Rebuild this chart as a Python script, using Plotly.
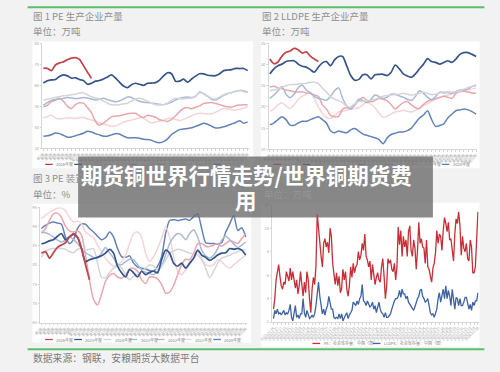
import pandas as pd
import plotly.graph_objects as go

W, H = 500, 372
FONT = "Noto Sans CJK SC"

# ---------------- categories ----------------
week_nums = list(range(1, 53))
week_labels = [f"第{i}周" for i in week_nums]
year_names = ["2026年度", "2025年度", "2024年度", "2023年度", "2022年度", "2021年度", "2020年度"]

# ---------------- 图1 PE 生产企业产量 (万吨) ----------------
pe_out_2026 = [68.1, 68.1, 67.0, 69.7, 70.6, 71.2, 72.2, 73.0, 73.2, 72.4, 69.4, 66.3, 63.4]
pe_out_2025 = [61.1, 62.2, 62.6, 62.8, 64.2, 65.0, 64.5, 63.4, 63.6, 62.8, 62.3, 60.5, 61.0, 62.0, 62.3, 63.0,
               64.0, 65.0, 63.5, 61.5, 59.7, 58.9, 60.3, 61.0, 60.5, 60.0, 61.0, 61.1, 61.3, 62.5, 64.5, 66.0,
               65.5, 62.0, 62.0, 63.0, 61.5, 63.0, 64.4, 65.5, 65.5, 64.8, 64.6, 64.6, 65.5, 67.0, 67.3, 67.5,
               68.1, 68.0, 68.0, 67.0]
pe_out_2024 = [53.0, 53.4, 53.8, 54.2, 54.6, 55.0, 55.2, 55.5, 55.8, 56.3, 56.4, 55.5, 54.6, 54.0, 53.5, 52.5,
               51.5, 50.8, 50.6, 50.8, 51.2, 51.5, 52.5, 53.5, 53.8, 53.3, 52.5, 51.5, 50.8, 50.6, 50.8, 51.5,
               53.0, 53.8, 53.6, 53.5, 53.8, 54.0, 55.0, 56.5, 56.0, 55.0, 53.8, 53.5, 54.5, 55.5, 56.2, 56.5,
               57.2, 57.6, 57.0, 56.4]
pe_out_2023 = [50.6, 51.8, 52.8, 53.3, 53.5, 53.8, 54.2, 54.0, 53.6, 53.8, 54.2, 54.0, 53.5, 53.0, 53.4, 53.8,
               53.2, 52.6, 52.2, 52.6, 53.5, 54.5, 54.2, 53.2, 52.4, 52.0, 51.8, 51.5, 51.2, 51.0, 50.8, 51.2,
               52.0, 53.0, 53.8, 54.2, 54.4, 54.2, 54.8, 56.8, 56.0, 54.8, 53.4, 53.0, 54.0, 55.2, 56.0, 56.6,
               57.2, 57.6, 57.4, 56.6]
pe_out_2022 = [49.8, 50.5, 52.2, 53.0, 53.8, 52.5, 50.0, 49.0, 50.8, 51.7, 51.5, 49.5, 47.0, 42.8, 41.0, 42.0,
               43.5, 45.0, 45.3, 45.5, 46.0, 46.5, 46.7, 46.7, 45.5, 44.7, 45.8, 45.4, 44.8, 43.6, 43.2, 42.8,
               43.8, 45.5, 47.5, 49.0, 49.4, 48.8, 49.6, 50.2, 51.4, 51.6, 51.8, 51.4, 50.8, 50.2, 49.8, 49.6,
               50.3, 50.6, 50.8, 50.8]
pe_out_2021 = [44.4, 45.2, 45.8, 44.5, 44.0, 44.2, 44.6, 44.4, 44.2, 44.5, 44.8, 44.0, 43.5, 43.0, 42.2, 41.6,
               41.0, 40.6, 40.5, 41.5, 42.5, 43.0, 43.5, 44.0, 44.5, 44.4, 43.0, 42.2, 42.5, 43.0, 43.5, 44.2,
               44.4, 43.8, 43.2, 43.8, 44.6, 45.5, 46.3, 46.7, 46.6, 46.4, 46.5, 47.2, 48.2, 49.0, 48.8, 48.4,
               48.2, 48.6, 49.2, 49.8]
pe_out_2020 = [35.8, 36.0, 36.5, 37.3, 37.0, 36.2, 35.3, 35.4, 36.0, 36.6, 37.2, 38.1, 37.8, 37.0, 36.4, 35.8,
               35.8, 36.4, 37.0, 36.8, 35.8, 35.0, 35.0, 35.0, 34.8, 34.3, 34.2, 33.8, 33.0, 32.7, 33.2, 34.5,
               36.6, 37.8, 38.9, 39.2, 39.5, 39.8, 40.5, 41.2, 42.0, 41.5, 40.5, 39.7, 39.8, 40.3, 40.9, 41.6,
               42.3, 43.1, 42.0, 42.6]
pe_out_ticks = [30, 40, 50, 60, 70, 80]

# ---------------- 图2 LLDPE 生产企业产量 (万吨) ----------------
ll_out_2026 = [31.3, 30.2, 30.6, 32.0, 32.9, 33.2, 33.8, 33.5, 32.7, 33.0, 32.0, 31.3, 30.7]
ll_out_2025 = [27.8, 29.0, 29.7, 30.1, 30.7, 30.9, 30.9, 30.1, 29.6, 29.4, 28.8, 28.2, 29.4, 30.4, 30.7, 29.7,
               31.1, 31.9, 31.9, 29.7, 27.4, 26.3, 26.5, 27.6, 27.6, 26.6, 27.6, 27.7, 27.7, 27.4, 28.2, 29.9,
               29.0, 27.8, 27.3, 27.0, 27.8, 29.0, 30.1, 31.4, 30.7, 30.5, 30.1, 30.5, 30.9, 30.5, 31.3, 32.4,
               32.8, 32.8, 32.4, 31.9]
ll_out_2024 = [23.8, 24.0, 24.3, 24.6, 25.0, 25.3, 25.3, 25.4, 25.5, 25.6, 25.8, 25.8, 25.5, 24.4, 23.5, 22.5,
               21.8, 21.5, 21.0, 20.2, 20.0, 20.8, 21.3, 21.3, 21.5, 21.6, 21.8, 22.2, 22.5, 22.7, 22.8, 22.9,
               23.0, 23.2, 23.0, 22.8, 23.0, 23.2, 23.5, 23.2, 22.9, 23.0, 23.3, 23.5, 23.5, 23.5, 23.6, 23.8,
               24.2, 24.6, 24.8, 25.0]
ll_out_2023 = [22.0, 22.8, 23.8, 24.8, 23.0, 22.2, 23.0, 24.5, 25.2, 24.0, 23.3, 22.5, 22.0, 21.8, 21.6, 22.5,
               23.8, 24.5, 22.0, 20.3, 19.5, 20.5, 21.8, 21.5, 21.0, 21.8, 22.8, 22.5, 22.0, 22.3, 23.0, 23.0,
               22.6, 22.3, 21.8, 21.5, 22.5, 23.8, 23.2, 22.3, 21.6, 22.5, 23.5, 23.3, 23.4, 23.2, 23.6, 24.0,
               24.0, 24.2, 24.8, 25.2]
ll_out_2022 = [24.7, 24.9, 24.5, 24.3, 24.0, 23.8, 23.6, 23.5, 23.6, 23.3, 23.2, 22.8, 22.5, 20.5, 19.5, 18.0,
               17.7, 17.8, 19.5, 19.8, 19.7, 20.5, 21.5, 22.3, 21.5, 21.2, 21.5, 22.0, 21.8, 21.5, 20.5, 19.5,
               20.3, 21.0, 21.3, 20.5, 19.8, 19.7, 20.6, 21.3, 21.8, 22.0, 22.2, 22.5, 22.3, 22.0, 23.2, 23.8,
               23.7, 23.5, 23.3, 23.2]
ll_out_2021 = [19.0, 19.5, 20.5, 21.0, 20.2, 19.6, 20.5, 21.8, 22.5, 23.0, 23.5, 22.0, 20.0, 18.5, 17.5, 17.3,
               18.0, 18.8, 19.0, 19.2, 19.5, 19.6, 19.8, 20.5, 21.2, 20.6, 19.8, 18.5, 17.6, 17.8, 18.3, 18.8,
               19.0, 19.2, 19.0, 18.8, 19.2, 19.6, 20.3, 20.8, 21.3, 21.8, 22.3, 22.6, 22.8, 23.0, 23.3, 23.5,
               23.8, 24.0, 24.2, 24.5]
ll_out_2020 = [15.8, 16.2, 17.0, 17.7, 17.0, 15.7, 15.7, 16.2, 16.6, 16.6, 17.0, 17.4, 17.7, 17.0, 16.2, 14.4,
               13.9, 14.3, 14.1, 13.9, 14.6, 14.9, 14.3, 13.6, 13.3, 13.0, 12.7, 12.3, 11.3, 12.7, 13.5, 13.8,
               14.1, 14.1, 14.4, 15.0, 16.2, 17.4, 18.1, 19.1, 17.0, 15.4, 15.6, 16.0, 17.4, 18.3, 19.1, 19.3,
               19.5, 19.3, 18.9, 18.3]
ll_out_ticks = [10, 15, 20, 25, 30, 35]

# ---------------- 图3 PE 装置开工率 (%) ----------------
pe_rate_2026 = [83.1, 83.5, 81.8, 83.2, 84.6, 85.2, 85.8, 87.3, 88.2, 87.3, 84.3, 80.1, 76.2]
pe_rate_2025 = [85.5, 85.8, 86.3, 86.6, 87.5, 88.2, 86.6, 87.3, 88.0, 87.2, 84.3, 80.9, 81.4, 81.7, 82.0, 82.4,
                83.1, 84.1, 83.1, 79.7, 78.0, 76.9, 78.8, 78.0, 76.9, 78.4, 77.5, 78.1, 78.4, 78.0, 81.4, 83.9,
                83.1, 80.5, 79.7, 80.5, 79.2, 80.5, 81.8, 83.9, 82.6, 82.0, 81.2, 81.8, 82.6, 83.1, 83.2, 84.3,
                84.1, 84.3, 83.9, 82.6]
pe_rate_2024 = [82.0, 83.5, 84.1, 84.3, 84.3, 84.3, 84.1, 83.5, 83.2, 84.1, 84.3, 83.9, 84.1, 84.3, 80.5, 76.9,
                76.7, 78.0, 79.2, 79.7, 79.2, 77.5, 76.2, 77.1, 77.5, 78.4, 79.2, 80.1, 79.7, 78.8, 79.7, 81.2,
                83.1, 83.7, 84.1, 83.9, 83.5, 83.1, 82.9, 82.6, 81.4, 79.2, 76.7, 78.4, 80.5, 81.8, 82.2, 82.6,
                83.1, 83.5, 83.9, 83.9]
pe_rate_2023 = [88.6, 88.4, 88.0, 87.3, 86.5, 86.0, 86.5, 87.5, 86.6, 85.6, 84.3, 83.2, 82.6, 82.0, 81.8, 83.1,
                84.6, 83.2, 81.8, 80.1, 80.1, 80.9, 81.5, 81.4, 80.1, 78.8, 78.1, 77.8, 77.5, 78.4, 79.7, 82.6,
                85.6, 87.3, 88.2, 87.8, 86.6, 88.2, 89.2, 87.3, 83.9, 82.4, 81.8, 82.6, 84.3, 86.5, 87.5, 86.6,
                85.5, 84.6, 85.2, 86.0]
pe_rate_2022 = [88.2, 89.5, 91.6, 93.3, 93.5, 92.4, 90.1, 88.9, 88.6, 88.9, 87.8, 82.6, 76.2, 71.1, 69.6, 72.4,
                75.8, 77.3, 77.8, 76.9, 76.6, 77.5, 79.0, 79.2, 78.4, 76.2, 75.2, 76.9, 76.9, 76.4, 75.0, 72.7,
                73.0, 74.7, 77.5, 80.1, 81.5, 81.4, 83.1, 85.5, 85.6, 84.9, 84.8, 85.2, 85.6, 84.9, 85.6, 86.3,
                86.0, 85.6, 86.9, 88.2]
pe_rate_2021 = [92.0, 92.9, 93.7, 94.3, 94.8, 94.8, 94.1, 92.4, 91.2, 91.4, 90.7, 88.6, 87.8, 87.2, 85.2, 83.5,
                81.8, 80.5, 79.7, 80.1, 80.9, 82.6, 85.6, 88.2, 88.6, 87.3, 83.1, 80.9, 82.2, 84.3, 86.9, 89.9,
                87.3, 82.2, 78.4, 77.5, 78.8, 80.1, 81.8, 83.5, 81.8, 80.1, 79.7, 80.1, 81.4, 80.9, 79.7, 79.2,
                80.1, 80.9, 81.8, 82.6]
pe_rate_2020 = [89.5, 90.3, 90.9, 91.2, 90.9, 90.6, 87.3, 85.6, 86.6, 89.5, 90.7, 90.6, 89.5, 88.6, 87.5, 86.6,
                87.1, 88.6, 87.3, 84.3, 82.2, 82.0, 82.4, 80.5, 79.5, 79.2, 79.0, 78.6, 78.4, 79.7, 82.2, 88.2,
                91.6, 91.8, 91.6, 91.8, 92.0, 91.6, 92.6, 93.3, 89.5, 85.8, 85.6, 85.6, 85.5, 85.8, 88.6, 90.7,
                92.9, 89.0, 89.7, 87.3]
pe_rate_ticks = [65, 70, 75, 80, 85, 90, 95]

# ---------------- 图4 库存 (万吨) ----------------
inv_pe = [3.1, 4.0, 5.6, 6.5, 6.9, 5.9,
          5.1, 4.8, 5.4, 5.2, 6.3, 5.9, 5.5, 6.6, 5.6, 6.3, 5.4, 4.9, 5.6, 4.4, 5.1, 6.3, 5.2, 4.2, 5.4, 4.5,
          6.3, 5.6, 4.0, 2.8, 4.8, 5.8, 5.2, 6.7,
          11.2, 9.8,
          8.3, 7.6, 6.7, 8.7, 9.1, 8.4, 8.8, 7.9, 10.0, 9.3, 7.0, 5.9, 5.2, 6.2, 5.1, 5.9, 4.5, 4.9, 6.5, 5.6,
          6.3, 4.8, 4.2, 5.1, 6.7, 5.8, 7.0, 6.2, 6.7, 6.9, 8.0, 7.3, 7.7, 8.7, 8.1, 9.5, 7.6, 7.3, 6.7, 7.2,
          5.6, 6.9, 5.9, 5.2, 5.8, 6.2, 5.6, 5.4, 6.7, 7.4, 5.9, 4.0, 5.1, 7.4, 7.0, 7.3, 6.5, 6.3, 7.0, 5.6,
          6.7, 10.1, 8.6, 9.8, 7.6, 9.3, 8.4, 9.0, 7.6, 9.7, 10.2, 8.1, 7.6, 9.0, 8.3, 6.5, 8.1, 10.5, 8.7, 9.1,
          8.4, 8.3, 7.0, 9.0, 6.7, 6.5, 5.9, 5.4, 6.6, 7.0, 7.9, 9.8, 8.7, 9.5, 9.3, 8.1, 9.8, 10.9, 10.4, 9.7,
          10.5, 9.0, 9.1, 8.1, 7.2, 9.5, 10.8, 10.4, 11.4, 10.2, 7.7, 9.3, 8.3, 8.0, 8.7, 7.4, 7.2, 9.0, 8.4, 6.2,
          6.2, 6.7, 9.3, 11.4]
inv_lldpe = [2.3, 3.0, 2.7, 3.1, 2.7, 2.8, 2.6, 2.8, 3.0, 2.6, 2.8, 2.7, 3.0, 3.5, 2.4, 2.1, 2.8, 3.4, 2.4, 2.6,
             2.3, 2.7, 2.7, 4.0, 2.8, 2.4, 3.0, 2.6, 2.3, 2.4, 2.6, 2.4, 2.7, 3.4, 4.5, 5.4, 4.2, 3.3, 2.7, 3.1,
             2.6, 3.1, 3.4, 4.2, 3.5, 3.1, 3.1, 2.4, 2.3, 2.4, 2.3, 2.7, 2.3, 2.7, 2.1, 2.4, 2.6, 2.8, 2.3, 2.6,
             2.8, 3.0, 3.7, 3.5, 3.4, 3.8, 3.5, 4.0, 4.2, 5.2, 3.8, 3.7, 3.4, 3.8, 3.5, 3.3, 3.4, 3.7, 3.1, 3.4,
             2.8, 3.3, 3.7, 3.1, 2.8, 2.7, 2.4, 2.8, 2.4, 2.4, 2.6, 2.7, 3.1, 3.5, 3.8, 4.0, 4.0, 4.2, 4.7, 4.1,
             4.8, 4.4, 4.4, 4.0, 4.2, 3.7, 3.5, 3.4, 3.1, 3.0, 3.3, 3.7, 4.0, 4.2, 4.7, 4.8, 4.2, 4.0, 3.7, 3.8,
             4.0, 3.4, 2.8, 2.6, 2.7, 2.4, 2.8, 3.1, 4.0, 4.5, 3.7, 4.2, 4.8, 4.0, 5.1, 4.0, 4.7, 4.2, 3.4, 4.8,
             4.0, 3.1, 4.1, 4.0, 3.4, 4.0, 3.4, 3.4, 3.7, 4.1, 4.1, 3.4, 3.1, 3.5, 3.0, 3.7, 3.4, 3.8, 3.8, 4.5]
inv_names = ["PE：社会库存量：中国（周）", "LLDPE：社会库存量：中国（周）"]
inv_ticks = [2, 4, 6, 8, 10, 12]
inv_dates = pd.date_range("2023-01-06", periods=max(len(inv_pe), len(inv_lldpe)), freq="7D").strftime("%Y-%m-%d").tolist()

headline_line1 = "期货铜世界行情走势/世界铜期货费"
headline_line2 = "用"

# ---------------- styling ----------------
year_colors = ["#c0474f", "#35548a", "#d3d5d9", "#a9b9d3", "#e9a7ae", "#f3d5d7", "#6383b8"]
year_widths = [1.8, 1.7, 1.5, 1.5, 1.5, 1.5, 1.5]
inv_colors = ["#c62f38", "#3d63a0"]
AXIS_C = "#d6d6d6"
TICK_C = "#a6a6a6"


def fx(px):
    return px / W


def fy(py):
    return 1 - py / H


fig = go.Figure()


def add_seasonal(series, xa, ya):
    for i in list(range(len(series)))[::-1]:
        vals = series[i]
        fig.add_trace(go.Scatter(
            x=week_nums[:len(vals)], y=vals, name=year_names[i], mode="lines",
            line=dict(color=year_colors[i], width=year_widths[i], shape="spline", smoothing=0.7),
            xaxis=xa, yaxis=ya, showlegend=False, hoverinfo="skip"))


add_seasonal([pe_out_2026, pe_out_2025, pe_out_2024, pe_out_2023, pe_out_2022, pe_out_2021, pe_out_2020], "x", "y")
add_seasonal([ll_out_2026, ll_out_2025, ll_out_2024, ll_out_2023, ll_out_2022, ll_out_2021, ll_out_2020], "x2", "y2")
add_seasonal([pe_rate_2026, pe_rate_2025, pe_rate_2024, pe_rate_2023, pe_rate_2022, pe_rate_2021, pe_rate_2020], "x3", "y3")

for vals, nm, col in [(inv_pe, inv_names[0], inv_colors[0]), (inv_lldpe, inv_names[1], inv_colors[1])]:
    fig.add_trace(go.Scatter(
        x=list(range(len(vals))), y=vals, name=nm, mode="lines",
        line=dict(color=col, width=1.3), xaxis="x4", yaxis="y4", showlegend=False, hoverinfo="skip"))


def xaxis_cfg(x0, x1, anchor, rng, tickvals, ticktext):
    return dict(domain=[fx(x0), fx(x1)], anchor=anchor, range=rng, showline=True, linecolor=AXIS_C,
                linewidth=1, showgrid=False, zeroline=False, tickmode="array", tickvals=tickvals,
                ticktext=ticktext, tickangle=-45, tickfont=dict(size=3.5, color=TICK_C, family=FONT),
                ticks="outside", ticklen=1.5, tickcolor=AXIS_C, fixedrange=True)


def yaxis_cfg(ytop, ybot, anchor, rng, tickvals):
    return dict(domain=[fy(ybot), fy(ytop)], anchor=anchor, range=rng, showline=True, linecolor=AXIS_C,
                linewidth=1, showgrid=False, zeroline=False, tickmode="array", tickvals=tickvals,
                tickfont=dict(size=4, color=TICK_C, family=FONT), ticks="outside", ticklen=1.5,
                tickcolor=AXIS_C, fixedrange=True)


inv_tickvals = list(range(0, len(inv_dates), 3))
inv_ticktext = [inv_dates[i] for i in inv_tickvals]

fig.update_layout(
    width=W, height=H, autosize=False, margin=dict(l=0, r=0, t=0, b=0),
    paper_bgcolor="#f2f2f2", plot_bgcolor="rgba(0,0,0,0)",
    font=dict(family=FONT),
    xaxis=xaxis_cfg(30, 242.7, "y", [0.7, 52.3], week_nums, week_labels),
    yaxis=yaxis_cfg(40, 146.7, "x", [pe_out_ticks[0], pe_out_ticks[-1]], pe_out_ticks),
    xaxis2=xaxis_cfg(263, 477.7, "y2", [0.7, 52.3], week_nums, week_labels),
    yaxis2=yaxis_cfg(40, 147.7, "x2", [ll_out_ticks[0], ll_out_ticks[-1]], ll_out_ticks),
    xaxis3=xaxis_cfg(28, 240.7, "y3", [0.7, 52.3], week_nums, week_labels),
    yaxis3=yaxis_cfg(206.7, 324, "x3", [pe_rate_ticks[0], pe_rate_ticks[-1]], pe_rate_ticks),
    xaxis4=xaxis_cfg(266.7, 479, "y4", [-1, len(inv_dates) - 0.5], inv_tickvals, inv_ticktext),
    yaxis4=yaxis_cfg(204, 323.3, "x4", [inv_ticks[0], inv_ticks[-1]], inv_ticks),
)

shapes = []
for (x0, y0, x1, y1) in [(20, 38, 247, 167), (255, 38, 480, 167), (20, 203, 245, 344), (255, 202, 480, 348)]:
    shapes.append(dict(type="rect", xref="paper", yref="paper", x0=fx(x0), x1=fx(x1), y0=fy(y1), y1=fy(y0),
                       fillcolor="white", line=dict(width=0), layer="below"))
for yy in (3.3, 351):
    shapes.append(dict(type="line", xref="paper", yref="paper", x0=fx(15), x1=fx(485), y0=fy(yy), y1=fy(yy),
                       line=dict(color="#5cbf6c", width=2), layer="below"))

annotations = []


def txt(x, y, text, size, color, xanchor="left", bold=False):
    annotations.append(dict(xref="paper", yref="paper", x=fx(x), y=fy(y), text=f"<b>{text}</b>" if bold else text,
                            showarrow=False, xanchor=xanchor, yanchor="middle",
                            font=dict(size=size, color=color, family=FONT)))


txt(19, 12.5, "图 1 PE 生产企业产量", 9.5, "#8f8f8f")
txt(19, 27, "单位：万吨", 9.5, "#8f8f8f")
txt(254, 12.5, "图 2 LLDPE 生产企业产量", 9.5, "#8f8f8f")
txt(254, 27, "单位：万吨", 9.5, "#8f8f8f")
txt(19, 176.5, "图 3 PE 装置开工率", 9.5, "#8f8f8f")
txt(19, 193, "单位：%", 9.5, "#8f8f8f")
txt(255, 176.5, "图 4 PE 社会库存", 9.5, "#929292")
txt(256, 193, "单位：万吨", 9.5, "#959595")
txt(19, 360, "数据来源：钢联，安粮期货大数据平台", 9.8, "#7a7a7a")


def legend_row(x_starts, y, names, colors):
    for xs, nm, col in zip(x_starts, names, colors):
        shapes.append(dict(type="line", xref="paper", yref="paper", x0=fx(xs), x1=fx(xs + 8), y0=fy(y), y1=fy(y),
                           line=dict(color=col, width=1.3), layer="below"))
        txt(xs + 9.5, y, nm, 4, "#808080")


season_x = [33, 63, 93, 120, 148, 176, 206]
legend_row(season_x, 163, year_names, year_colors)
legend_row([x + 235 for x in season_x], 163, year_names, year_colors)
legend_row(season_x, 341, year_names, year_colors)
legend_row([308, 370], 345, inv_names, inv_colors)

# headline overlay box
shapes.append(dict(type="rect", xref="paper", yref="paper", x0=fx(67), x1=fx(432), y0=fy(217), y1=fy(155),
                   fillcolor="rgba(105,105,105,0.78)", line=dict(width=0), layer="above"))
txt(240, 173, headline_line1, 21.5, "white", xanchor="center", bold=True)
txt(240, 198.5, headline_line2, 21.5, "white", xanchor="center", bold=True)

fig.update_layout(shapes=shapes, annotations=annotations)
fig.write_html("out.html", config={"displayModeBar": False, "staticPlot": True},
               post_script="document.body.style.margin='0px';document.body.style.overflow='hidden';")
